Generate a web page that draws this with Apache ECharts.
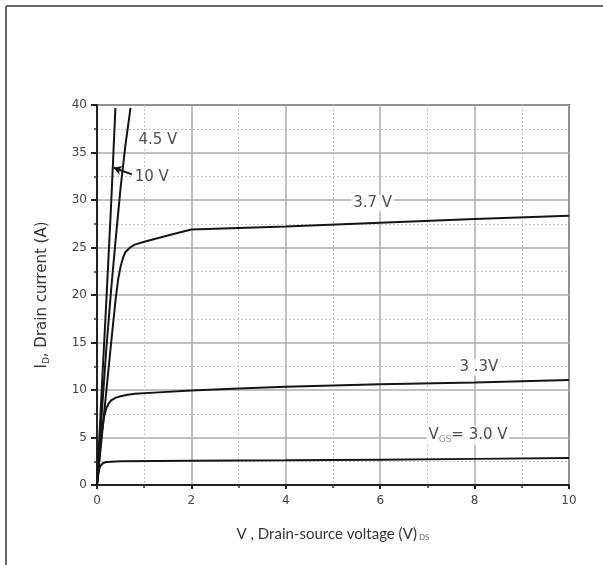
<!DOCTYPE html>
<html><head><meta charset="utf-8">
<script src="https://cdn.jsdelivr.net/npm/echarts@6/dist/echarts.min.js"></script>
<style>html,body{margin:0;padding:0;background:#fff}#c{width:603px;height:565px}</style>
</head><body><div id="c"></div>
<script>
// Output characteristics: [V_DS (V), I_D (A)]
const vgs10V = [[0,0],[0.1,10],[0.2,19.6],[0.3,29.6],[0.39,39.7]];
const vgs45V = [[0,0],[0.1,7.5],[0.2,14.5],[0.3,20.6],[0.4,26.1],[0.5,31.3],[0.6,35.7],[0.71,39.7]];
const vgs37V = [[0,0],[0.1,5],[0.2,10],[0.3,15],[0.4,19.8],[0.45,21.7],[0.5,23],[0.55,23.9],[0.6,24.5],[0.7,25.0],[0.8,25.3],[1.0,25.6],[1.3,26.0],[1.6,26.4],[2.0,26.9],[4,27.2],[6,27.6],[8,28.0],[10,28.35]];
const vgs33V = [[0,0],[0.05,3],[0.1,5.5],[0.15,7.2],[0.2,8.1],[0.25,8.6],[0.3,8.9],[0.4,9.2],[0.5,9.35],[0.65,9.5],[0.8,9.6],[1.3,9.75],[2,9.95],[3,10.15],[4,10.35],[6,10.6],[8,10.8],[10,11.05]];
const vgs30V = [[0,0],[0.03,1.2],[0.05,1.7],[0.07,2.0],[0.1,2.2],[0.13,2.32],[0.2,2.42],[0.3,2.46],[0.5,2.5],[2,2.55],[4,2.6],[6,2.67],[8,2.75],[10,2.85]];
const curveNames = ['10 V','4.5 V','3.7 V','3.3 V','3.0 V'];
// annotation labels: [V_DS, I_D, text]
const curveLabels = [
  [1.29, 36.3, '4.5 V'],
  [1.16, 32.4, '10 V'],
  [5.84, 29.65, '3.7 V'],
  [8.09, 12.43, '3 .3V'],
  [7.86, 5.24, '{m|V}{s|GS}{m|= 3.0 V}']
];
const arrowFrom = [0.74, 32.7];
const arrowTo = [0.35, 33.4];
const xTicks = {min:0, max:10, interval:2};
const yTicks = {min:0, max:40, interval:5};

const chart = echarts.init(document.getElementById('c'));
const lineStyle = {color:'#151515', width:2};
function curve(name, data, extra){
  return Object.assign({
    name, type:'line', data, showSymbol:false, symbol:'none',
    smooth:false, lineStyle, clip:true, z:5
  }, extra||{});
}
const FONT = 'DejaVu Sans';
chart.setOption({
  animation:false,
  backgroundColor:'#fff',
  grid:{left:97, right:34, top:105, bottom:80, show:true, borderColor:'#444', borderWidth:2, backgroundColor:'transparent'},
  xAxis:{
    type:'value', min:xTicks.min, max:xTicks.max, interval:xTicks.interval,
    axisLine:{show:true, onZero:false, lineStyle:{color:'#222', width:2}},
    axisTick:{show:true, inside:false, length:4, lineStyle:{color:'#222', width:2}},
    minorTick:{show:true, splitNumber:2, length:3, lineStyle:{color:'#333', width:1.5}},
    axisLabel:{color:'#444', fontFamily:FONT, fontSize:12, margin:10},
    splitLine:{show:true, lineStyle:{color:'#adadad', width:1.5}},
    minorSplitLine:{show:true, lineStyle:{color:'#c4c4c4', width:1, type:[2,2]}},
    name:'{a|V , Drain-source voltage (V)}{s| DS}', nameLocation:'middle', nameGap:42,
    nameTextStyle:{rich:{
      a:{fontFamily:'Lato', fontSize:15, color:'#333'},
      s:{fontFamily:'Lato', fontSize:8, color:'#666', padding:[6,0,0,0]}
    }}
  },
  yAxis:{
    type:'value', min:yTicks.min, max:yTicks.max, interval:yTicks.interval,
    axisLine:{show:true, onZero:false, lineStyle:{color:'#222', width:2}},
    axisTick:{show:true, inside:false, length:6, lineStyle:{color:'#222', width:2}},
    minorTick:{show:true, splitNumber:2, length:3, lineStyle:{color:'#333', width:1.5}},
    axisLabel:{color:'#444', fontFamily:FONT, fontSize:12, margin:10},
    splitLine:{show:true, lineStyle:{color:'#adadad', width:1.5}},
    minorSplitLine:{show:true, lineStyle:{color:'#c4c4c4', width:1, type:[2,2]}},
    name:'{a|I}{s|D}{a|, Drain current (A)}', nameLocation:'middle', nameGap:46, nameRotate:90,
    nameTextStyle:{rich:{
      a:{fontFamily:FONT, fontSize:15, color:'#333'},
      s:{fontFamily:FONT, fontSize:9, color:'#333', padding:[8,0,0,0]}
    }}
  },
  graphic:[
    {type:'line', shape:{x1:6, y1:6, x2:603, y2:6}, style:{stroke:'#6a6a6a', lineWidth:2}},
    {type:'line', shape:{x1:6, y1:6, x2:6, y2:565}, style:{stroke:'#6a6a6a', lineWidth:2}}
  ],
  series:[
    curve(curveNames[0], vgs10V, {
      markLine:{silent:true, symbol:['none','arrow'], symbolSize:[7,8], animation:false,
        lineStyle:{color:'#151515', width:2, type:'solid'}, label:{show:false},
        data:[[{coord:arrowFrom},{coord:arrowTo}]]}
    }),
    curve(curveNames[1], vgs45V),
    curve(curveNames[2], vgs37V),
    curve(curveNames[3], vgs33V),
    curve(curveNames[4], vgs30V),
    {
      type:'scatter', data:curveLabels.map(d=>({value:[d[0],d[1]], text:d[2]})),
      symbolSize:1, itemStyle:{color:'rgba(0,0,0,0)'}, z:6,
      label:{show:true, position:'inside', formatter:p=>p.data.text,
        fontFamily:FONT, fontSize:15, color:'#222', backgroundColor:'#fff', padding:[1,2],
        rich:{
          m:{fontFamily:FONT, fontSize:15, color:'#222'},
          s:{fontFamily:FONT, fontSize:9, color:'#777', padding:[9,0,0,0]}
        }
      }
    }
  ]
});
</script></body></html>
